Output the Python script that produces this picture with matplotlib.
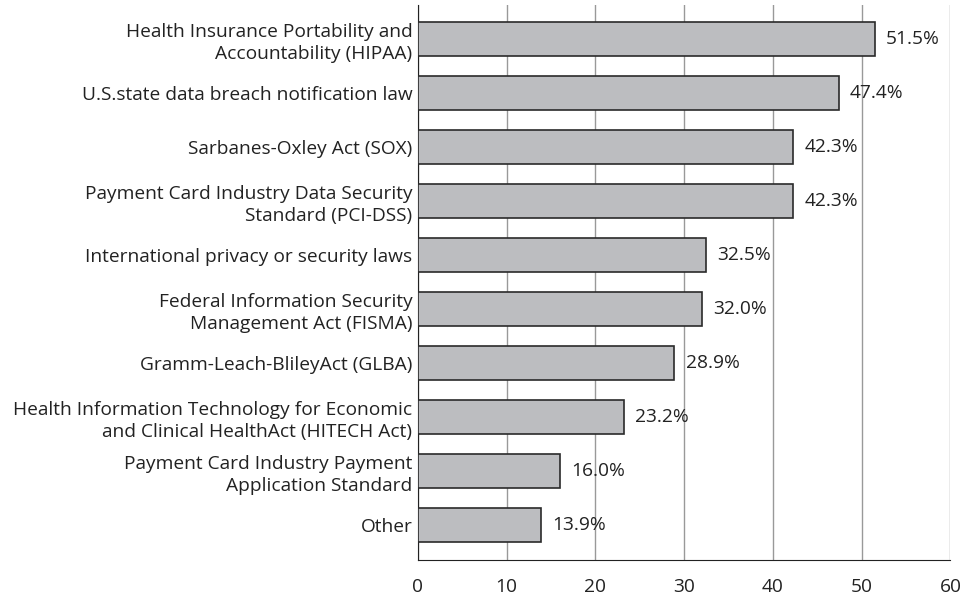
import matplotlib.pyplot as plt

plt.rcParams['font.family'] = ['Open Sans', 'DejaVu Sans']

labels = [
    "Health Insurance Portability and\nAccountability (HIPAA)",
    "U.S.state data breach notification law",
    "Sarbanes-Oxley Act (SOX)",
    "Payment Card Industry Data Security\nStandard (PCI-DSS)",
    "International privacy or security laws",
    "Federal Information Security\nManagement Act (FISMA)",
    "Gramm-Leach-BlileyAct (GLBA)",
    "Health Information Technology for Economic\nand Clinical HealthAct (HITECH Act)",
    "Payment Card Industry Payment\nApplication Standard",
    "Other",
]
values = [51.5, 47.4, 42.3, 42.3, 32.5, 32.0, 28.9, 23.2, 16.0, 13.9]
xticks = [0, 10, 20, 30, 40, 50, 60]

fig = plt.figure(figsize=(9.63, 5.98), dpi=100)
ax = fig.add_axes([0.434, 0.064, 0.553, 0.928])

pos = list(range(len(values)))
bars = ax.barh(pos, values, height=0.63, color='#bcbdc0',
               edgecolor='#2a2a2a', linewidth=1.2, zorder=3)

for b, v in zip(bars, values):
    ax.annotate(f"{v:.1f}%", (b.get_width(), b.get_y() + b.get_height() / 2),
                xytext=(8, 0), textcoords='offset points',
                va='center', ha='left', fontsize=13.8, color='#222222', zorder=4)

ax.set_xlim(0, 60)
ax.set_ylim(9.65, -0.63)
ax.set_xticks(xticks)
ax.set_yticks(pos)
ax.set_yticklabels(labels, fontsize=13.8, color='#222222', linespacing=1.3)
ax.tick_params(axis='both', length=0)
ax.tick_params(axis='x', pad=13, labelsize=13.8, labelcolor='#222222')
ax.tick_params(axis='y', pad=4)

ax.xaxis.grid(True, color='#999999', linewidth=1.0, zorder=0)
for s in ['top', 'right']:
    ax.spines[s].set_visible(False)
ax.spines['left'].set_color('#222222')
ax.spines['bottom'].set_color('#222222')

fig.savefig('out.png', dpi=100)
